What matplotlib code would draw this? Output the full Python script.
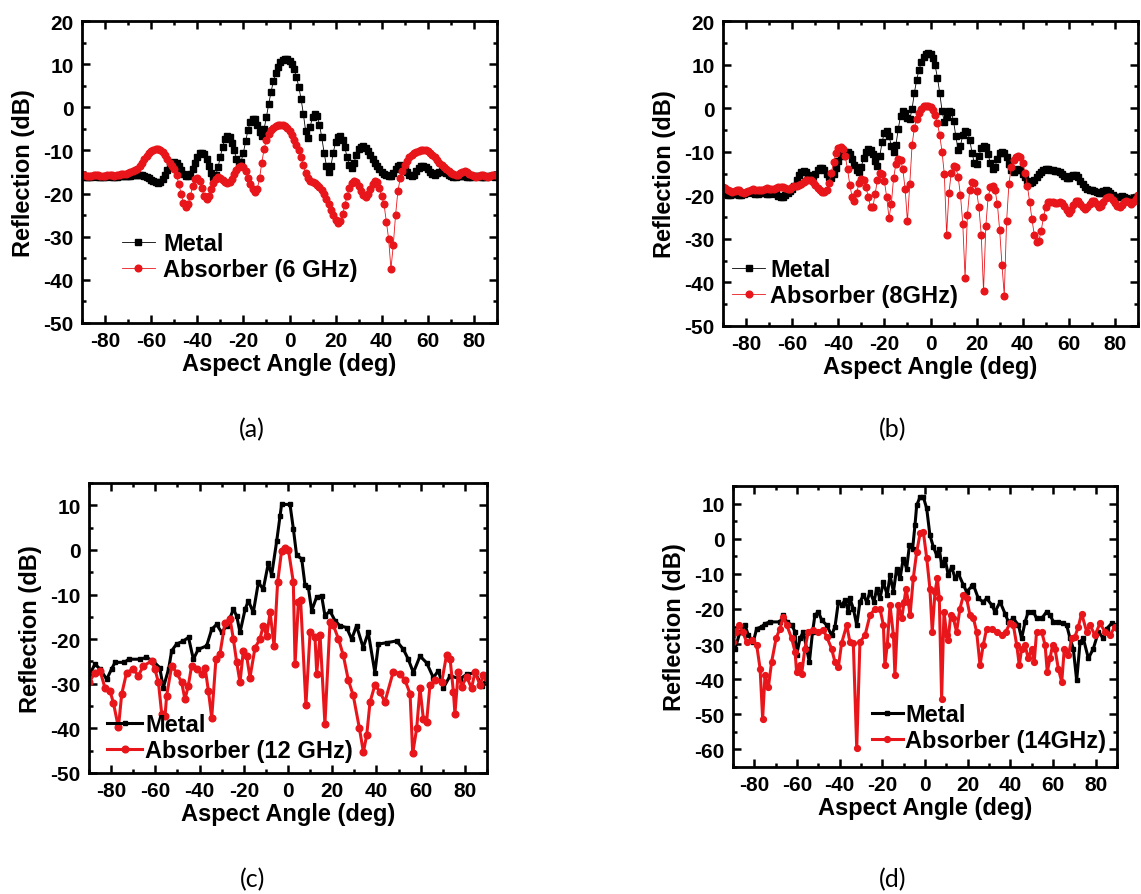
import numpy as np
import matplotlib.pyplot as plt
from matplotlib.ticker import MultipleLocator

plt.rcParams['font.family'] = ['Liberation Sans', 'DejaVu Sans']
plt.rcParams['font.weight'] = 'bold'
plt.rcParams['axes.labelweight'] = 'bold'
plt.rcParams['axes.unicode_minus'] = False

# 6 GHz and 8 GHz scans are sampled every degree
angles = np.arange(-90, 91)

metal_6 = [
    -16.0, -16.1, -16.2, -16.2, -16.1, -16.0, -16.0, -16.1, -16.2, -16.2,   # -90..-81
    -16.1, -16.0, -16.0, -16.1, -16.2, -16.1, -16.0, -15.9, -15.9, -16.0,   # -80..-71
    -16.0, -15.9, -15.8, -15.7, -15.6, -15.6, -15.7, -15.9, -16.2, -16.5,   # -70..-61
    -16.8, -17.1, -17.4, -17.5, -17.3, -16.6, -15.6, -14.5, -13.5, -12.9,   # -60..-51
    -12.6, -12.8, -13.5, -14.5, -15.4, -15.9, -16.0, -15.5, -14.3, -12.8,   # -50..-41
    -11.5, -10.7, -10.5, -10.9, -12.0, -13.6, -15.2, -16.2, -15.8, -13.9,   # -40..-31
    -11.5, -9.1, -7.4, -6.7, -7.0, -8.2, -10.0, -11.9, -13.1, -12.6,        # -30..-21
    -10.5, -7.8, -5.2, -3.4, -2.6, -2.8, -4.0, -5.8, -6.6, -5.0,            # -20..-11
    -2.2, 0.8, 3.6, 6.0, 8.0, 9.4, 10.4, 11.0, 11.3, 11.2,                  # -10..-1
    10.8, 10.0, 8.8, 7.0, 4.8, 2.0, -1.5, -5.5, -7.2, -4.5,                 # 0..9
    -2.2, -1.6, -2.0, -4.0, -7.0, -10.5, -13.5, -15.0, -13.5, -10.5,        # 10..19
    -8.0, -6.9, -6.7, -7.5, -9.3, -11.6, -13.4, -14.0, -12.8, -11.0,        # 20..29
    -9.7, -9.1, -9.0, -9.4, -10.1, -11.0, -11.9, -12.8, -13.6, -14.3,       # 30..39
    -14.9, -15.4, -15.8, -16.0, -15.9, -15.3, -14.4, -13.6, -13.3, -13.5,   # 40..49
    -14.2, -15.1, -15.8, -16.0, -15.6, -14.8, -14.0, -13.7, -13.6, -13.9,   # 50..59
    -14.4, -15.0, -15.4, -15.6, -15.3, -14.9, -14.7, -14.9, -15.3, -15.7,   # 60..69
    -16.0, -16.1, -16.1, -16.0, -15.9, -15.9, -16.0, -16.1, -16.2, -16.1,   # 70..79
    -16.0, -15.9, -16.0, -16.1, -16.2, -16.1, -16.0, -15.9, -16.0, -16.1,   # 80..89
    -16.0,                                                                  # 90
]
absorber_6 = [
    -15.6, -15.7, -15.9, -16.0, -15.9, -15.7, -15.6, -15.7, -15.9, -16.0,
    -15.9, -15.8, -15.7, -15.8, -15.9, -15.8, -15.6, -15.5, -15.5, -15.4,
    -15.2, -15.0, -14.8, -14.5, -14.2, -13.6, -12.9, -12.1, -11.3, -10.6,
    -10.1, -9.8, -9.6, -9.6, -9.8, -10.3, -11.0, -11.9, -12.8, -13.6,
    -14.4, -15.8, -17.8, -20.0, -22.2, -23.2, -22.5, -20.6, -18.2, -16.7,
    -16.3, -17.0, -18.8, -20.6, -21.2, -20.5, -19.0, -17.6, -16.6, -16.2,
    -16.4, -16.9, -17.4, -17.6, -17.4, -16.6, -15.5, -14.5, -13.8, -13.5,
    -13.8, -14.8, -16.3, -17.8, -19.0, -19.6, -19.0, -16.5, -12.8, -9.6,
    -7.6, -6.2, -5.3, -4.7, -4.3, -4.1, -4.0, -4.1, -4.4, -4.9,
    -5.6, -6.5, -7.6, -8.8, -10.0, -11.5, -13.4, -15.2, -16.4, -17.0,
    -17.3, -17.6, -18.0, -18.5, -19.2, -20.1, -21.2, -22.4, -23.7, -25.0,
    -26.2, -26.9, -26.4, -24.8, -22.6, -20.5, -18.8, -17.6, -17.1, -17.3,
    -18.2, -19.4, -20.4, -20.8, -20.2, -18.9, -17.8, -17.2, -17.4, -18.8,
    -20.6, -22.5, -26.5, -30.5, -37.5, -32.0, -25.0, -19.5, -16.5, -14.8,
    -13.4, -12.4, -11.6, -11.0, -10.6, -10.3, -10.1, -10.0, -9.9, -10.0,
    -10.2, -10.6, -11.0, -11.6, -12.2, -12.8, -13.4, -13.9, -14.4, -14.8,
    -15.2, -15.5, -15.8, -15.6, -15.2, -14.9, -14.8, -15.0, -15.4, -15.8,
    -16.0, -16.1, -15.9, -15.7, -15.8, -16.0, -16.1, -16.0, -15.8, -15.7,
    -15.8,
]
metal_8 = [
    -19.5, -19.8, -20.0, -20.0, -19.8, -19.6, -19.8, -20.0, -20.0, -19.8,
    -19.5, -19.3, -19.3, -19.5, -19.7, -19.6, -19.4, -19.3, -19.4, -19.6,
    -19.6, -19.5, -19.5, -19.8, -20.2, -20.4, -20.3, -19.9, -19.4, -19.0,
    -18.6, -17.8, -16.6, -15.4, -14.6, -14.4, -14.7, -15.3, -15.7, -15.6,
    -15.0, -14.3, -13.8, -13.7, -14.1, -15.0, -15.8, -16.0, -15.2, -13.8,
    -12.2, -10.9, -10.2, -10.0, -10.1, -10.6, -11.6, -13.0, -14.2, -14.6,
    -13.4, -11.5, -10.0, -9.4, -9.5, -10.6, -12.2, -13.2, -11.0, -7.8,
    -5.6, -5.3, -6.4, -8.6, -10.1, -8.5, -4.8, -1.8, -0.7, -1.0,
    -2.2, -2.6, -0.2, 3.5, 6.5, 8.8, 10.5, 11.8, 12.5, 12.7,
    12.4, 11.5, 9.8, 7.0, 3.5, -0.6, -3.2, -2.0, -0.6, -0.8,
    -3.0, -6.5, -9.6, -8.6, -6.2, -5.3, -5.4, -7.2, -10.2, -12.6,
    -12.8, -11.0, -9.2, -8.6, -9.0, -10.6, -12.7, -14.0, -13.4, -11.7,
    -10.4, -10.1, -10.2, -11.2, -12.8, -14.2, -14.6, -14.3, -14.0, -14.3,
    -15.0, -15.9, -16.7, -17.2, -17.0, -16.4, -15.8, -15.2, -14.6, -14.2,
    -14.0, -14.0, -14.1, -14.3, -14.4, -14.5, -14.7, -15.1, -15.6, -16.0,
    -16.0, -15.6, -15.3, -15.4, -15.9, -16.7, -17.5, -18.2, -18.6, -18.8,
    -18.9, -19.0, -19.2, -19.4, -19.4, -19.1, -18.9, -19.0, -19.4, -19.9,
    -20.3, -20.5, -20.4, -20.2, -20.3, -20.6, -20.9, -21.0, -20.8, -20.5,
    -20.2,
]
absorber_8 = [
    -18.0, -18.3, -18.8, -19.1, -19.2, -19.0, -18.8, -18.9, -19.2, -19.4,
    -19.3, -19.0, -18.7, -18.6, -18.7, -18.9, -18.9, -18.7, -18.5, -18.4,
    -18.5, -18.6, -18.5, -18.3, -18.1, -18.0, -18.1, -18.4, -18.6, -18.5,
    -18.2, -17.9, -17.8, -17.6, -17.3, -17.0, -16.6, -16.4, -16.5, -17.0,
    -17.7, -18.4, -18.9, -19.2, -19.3, -18.8, -17.2, -14.8, -12.3, -10.3,
    -9.2, -8.9, -9.4, -11.0, -14.0, -17.6, -20.4, -21.2, -19.4, -17.2,
    -16.3, -16.6, -18.0, -20.4, -22.6, -22.8, -19.6, -16.4, -14.9, -15.0,
    -16.8, -20.4, -25.2, -22.0, -16.0, -12.8, -11.7, -11.8, -14.0, -18.6,
    -26.0, -17.5, -8.5, -4.5, -2.4, -1.0, -0.1, 0.4, 0.6, 0.5,
    0.2, -0.4, -1.6, -3.5, -6.2, -10.0, -15.2, -29.0, -19.5, -14.8,
    -13.2, -13.6, -15.8, -20.0, -26.5, -39.0, -24.5, -18.8, -17.0, -17.2,
    -19.0, -22.8, -29.0, -42.0, -27.0, -20.4, -18.2, -17.8, -18.8, -22.0,
    -28.0, -36.0, -43.0, -26.0, -17.5, -13.6, -11.8, -11.1, -10.9, -11.3,
    -12.6, -14.8, -17.8, -21.5, -25.5, -29.0, -30.8, -30.4, -28.2, -25.0,
    -22.6, -21.6, -21.5, -21.6, -21.8, -21.8, -21.6, -21.8, -22.4, -23.4,
    -24.0, -23.4, -22.2, -21.4, -21.3, -21.9, -22.7, -23.2, -22.8, -21.9,
    -21.2, -21.3, -22.0, -22.6, -22.4, -21.5, -20.7, -20.3, -20.4, -21.0,
    -21.8, -22.4, -22.6, -22.2, -21.6, -21.3, -21.6, -22.0, -21.6, -20.8,
    -20.0,
]

# 12 GHz and 14 GHz scans: (angle, dB) pairs
metal_12 = [
    (-90, -28.2), (-87.3, -25.6), (-85, -26.7), (-82, -29.0), (-79.8, -26.7),
    (-78.2, -25.2), (-74, -25.2), (-72, -24.5), (-67, -24.5), (-64, -24.1),
    (-61, -24.9), (-58, -26.4), (-56.4, -30.9), (-54, -26.7), (-52.6, -22.6),
    (-50.4, -21.1), (-47.3, -20.4), (-45, -19.6), (-42.8, -24.5), (-40.6, -22.3),
    (-36.8, -21.5), (-34.5, -17.8), (-32.3, -16.7), (-30, -18.5), (-27.7, -17.0),
    (-26.2, -15.2), (-24.7, -13.3), (-23.2, -14.8), (-21.7, -18.5), (-19.4, -13.3),
    (-17.9, -11.4), (-15.7, -14.0), (-13.4, -7.3), (-11.2, -8.8), (-8.9, -3.0),
    (-7.4, -5.6), (-5.1, 2.0), (-3.6, 7.6), (-2.9, 10.2), (0.9, 10.2),
    (2.4, 4.8), (3.9, -1.2), (6.2, -2.0), (7.7, -7.9), (9.2, -8.4),
    (10.7, -13.6), (13.0, -10.5), (15.2, -10.3), (16.7, -14.7), (19.0, -13.7),
    (21.3, -15.9), (23.5, -17.0), (26.5, -17.4), (28.8, -20.0), (31.0, -17.0),
    (34.0, -21.9), (36.3, -18.5), (39.3, -27.5), (40.9, -21.1), (44.6, -20.8),
    (49.1, -20.4), (52.2, -22.3), (54.4, -24.5), (56.7, -27.5), (59.7, -23.8),
    (62.7, -25.3), (65.7, -28.6), (68.0, -27.1), (70.3, -30.9), (73.3, -28.2),
    (77.8, -28.9), (80.8, -27.9), (84.6, -27.5), (87.6, -30.4), (90, -28.9),
]
absorber_12 = [
    (-90, -29.7), (-87.3, -27.5), (-85, -27.1), (-82.8, -30.9), (-80.5, -31.6),
    (-79, -34.2), (-76.7, -39.8), (-75.2, -32.3), (-73, -27.5), (-70, -26.7),
    (-67.7, -28.2), (-65.4, -26.0), (-61.7, -24.9), (-60.2, -26.7), (-58.6, -29.7),
    (-57.1, -36.8), (-55.6, -37.2), (-54.9, -32.7), (-52.6, -26.0), (-50.4, -27.5),
    (-48.1, -29.7), (-46.6, -33.5), (-45.1, -30.5), (-43.6, -26.0), (-41.3, -26.7),
    (-39, -27.8), (-37.5, -26.4), (-36, -31.6), (-34.5, -37.6), (-32.6, -24.5),
    (-30.8, -23.4), (-28.5, -16.3), (-26.2, -15.5), (-24.7, -20.0), (-23.2, -25.2),
    (-21.7, -29.7), (-20.2, -22.6), (-18.7, -23.8), (-17.2, -28.6), (-14.9, -21.9),
    (-12.7, -20.0), (-11.2, -17.0), (-9.6, -19.3), (-8.1, -14.0), (-6.3, -21.5),
    (-4.7, -7.3), (-2.9, -0.2), (-1.4, 0.5), (0.2, 0.0), (2.4, -7.2),
    (3.2, -25.5), (4.7, -11.7), (5.7, -11.3), (8.1, -34.8), (10.0, -18.4),
    (12.2, -19.5), (13.0, -27.7), (14.5, -19.1), (16.7, -39.0), (19.0, -16.1),
    (20.5, -16.9), (22.8, -19.9), (25.0, -23.6), (27.3, -29.2), (29.5, -32.6),
    (32.3, -40.0), (34.1, -45.3), (35.6, -41.5), (37.1, -34.1), (39.3, -30.3),
    (41.6, -31.8), (43.8, -34.1), (47.6, -27.3), (50.6, -27.7), (52.9, -29.2),
    (55.2, -32.2), (56.4, -45.6), (58.2, -40.0), (59.7, -31.0), (61.2, -37.8),
    (62.7, -38.5), (64.2, -30.3), (66.4, -29.2), (69.5, -29.6), (71.7, -23.6),
    (73.3, -24.4), (74.8, -31.8), (75.5, -36.7), (77.0, -27.3), (78.5, -30.7),
    (80.8, -28.4), (83.0, -31.0), (84.6, -27.3), (86.8, -30.3), (88.3, -28.1),
    (90, -28.8),
]
metal_14 = [
    (-90, -27.5), (-89, -31.3), (-86.7, -26.5), (-84.4, -24.6), (-82.8, -27.5),
    (-80.5, -29.4), (-78.9, -25.6), (-76.6, -25.1), (-75, -24.2), (-72.7, -23.7),
    (-68, -23.7), (-66.4, -21.8), (-64.8, -23.7), (-62.5, -24.6), (-60.9, -26.5),
    (-60.2, -33.2), (-58.6, -28.4), (-57, -26.5), (-55.5, -31.3), (-54.2, -35.1),
    (-52.7, -26.5), (-51.6, -21.8), (-50, -20.8), (-48.4, -23.2), (-46.1, -24.6),
    (-43.8, -27.5), (-42.2, -25.1), (-40.6, -18.0), (-39.1, -18.9), (-37.5, -17.5),
    (-35.9, -20.8), (-35.2, -17.0), (-33.6, -19.9), (-32, -24.6), (-30.5, -18.0),
    (-28.9, -16.1), (-27.3, -18.0), (-25.8, -15.1), (-23.9, -18.0), (-22.7, -14.3),
    (-21.1, -17.0), (-19.5, -12.3), (-17.7, -16.1), (-16.4, -10.4), (-14.8, -15.1),
    (-13.3, -8.5), (-11.7, -11.3), (-10.2, -5.7), (-8.6, -8.5), (-7.3, -1.9),
    (-5.8, -2.8), (-4.7, 3.8), (-3.9, 9.5), (-2.3, 11.9), (-0.8, 11.9),
    (0.8, 8.6), (2.3, 1.0), (3.9, -2.3), (5.5, -4.7), (6.7, -2.8),
    (7.8, -7.6), (9.4, -5.7), (10.9, -10.4), (12.5, -8.0), (14.1, -11.3),
    (15.6, -9.9), (18.0, -13.2), (19.5, -15.1), (21.9, -13.6), (22.7, -13.2),
    (25.0, -17.0), (27.3, -18.0), (28.9, -17.0), (31.3, -18.9), (32.8, -20.8),
    (35.2, -18.0), (37.5, -21.3), (39.1, -23.7), (41.4, -22.7), (43.8, -24.6),
    (45.3, -28.4), (46.9, -23.7), (48.4, -20.8), (50.8, -20.8), (52.3, -22.7),
    (54.7, -22.7), (57.0, -20.8), (58.6, -21.7), (60.2, -23.7), (62.5, -23.7),
    (64.8, -24.1), (66.4, -24.6), (68.0, -28.4), (69.5, -31.3), (71.1, -40.3),
    (72.7, -29.4), (74.2, -28.4), (76.6, -34.1), (78.9, -31.3), (81.3, -26.5),
    (83.6, -28.4), (85.2, -25.6), (87.5, -24.1), (90, -24.6),
]
absorber_14 = [
    (-90, -29.4), (-88.6, -26.5), (-87, -24.6), (-85.5, -26.5), (-83.6, -29.4),
    (-81.3, -28.9), (-78.9, -30.3), (-77.3, -37.0), (-76.1, -51.2), (-75, -38.9),
    (-73.4, -42.2), (-71.9, -35.1), (-69.8, -28.4), (-68, -25.6), (-66.4, -22.3),
    (-64.8, -24.6), (-62.5, -28.4), (-60.9, -32.2), (-60.2, -37.9), (-58.6, -36.0),
    (-57.8, -38.4), (-56.3, -31.3), (-54.7, -26.5), (-52.3, -26.0), (-50, -26.5),
    (-47.7, -26.0), (-46.1, -27.9), (-43.8, -31.3), (-42.2, -35.1), (-40.6, -36.5),
    (-39.1, -29.8), (-36.7, -24.6), (-35.2, -29.4), (-33.6, -29.8), (-32, -59.7),
    (-30.5, -29.4), (-28.1, -27.5), (-25.8, -21.8), (-23.4, -19.9), (-21.1, -19.9),
    (-19.5, -24.6), (-18.8, -36.0), (-17.7, -30.3), (-16.4, -18.9), (-14.8, -27.5),
    (-14.1, -38.9), (-12.5, -18.9), (-10.9, -22.7), (-9.8, -18.0), (-8.9, -14.2),
    (-7.8, -18.0), (-7.0, -21.8), (-5.5, -11.3), (-3.9, -3.8), (-2.3, 1.5),
    (-0.8, 2.0), (0.8, -5.5), (2.3, -14.2), (3.4, -26.5), (4.7, -15.1),
    (5.8, -11.3), (6.7, -17.0), (7.8, -45.5), (8.9, -20.8), (10.2, -27.5),
    (10.9, -28.9), (12.0, -21.8), (13.3, -22.7), (14.8, -26.5), (16.4, -19.9),
    (18.0, -16.1), (19.5, -17.0), (21.1, -21.8), (22.7, -22.7), (24.2, -26.5),
    (25.8, -36.0), (27.3, -30.3), (28.9, -25.6), (31.3, -25.6), (33.6, -26.5),
    (35.9, -27.5), (37.9, -26.5), (39.8, -24.1), (41.4, -24.6), (43.0, -30.3),
    (44.2, -36.0), (45.3, -31.3), (46.9, -30.3), (48.4, -34.1), (50.0, -31.3),
    (51.2, -35.1), (52.3, -26.5), (54.7, -26.5), (56.3, -30.3), (57.3, -37.9),
    (58.6, -34.1), (59.8, -30.3), (60.9, -31.3), (62.5, -37.0), (64.1, -40.8),
    (65.3, -31.3), (67.2, -33.2), (68.8, -28.4), (70.3, -27.9), (71.9, -25.0),
    (73.4, -21.3), (75.8, -26.5), (77.3, -24.6), (79.7, -27.5), (82.0, -24.1),
    (84.4, -26.5), (86.7, -27.5), (89.0, -25.1), (90, -25.5),
]

RED = '#e8161b'
W, H = 1141, 895


def px_rect(left, top, right, bottom):
    return [left / W, 1 - bottom / H, (right - left) / W, (bottom - top) / H]


def style_axes(ax, ylim):
    ax.set_xlim(-90, 90)
    ax.set_ylim(*ylim)
    ax.xaxis.set_major_locator(MultipleLocator(20))
    ax.xaxis.set_minor_locator(MultipleLocator(10))
    ax.yaxis.set_major_locator(MultipleLocator(10))
    ax.yaxis.set_minor_locator(MultipleLocator(5))
    ax.tick_params(which='both', direction='in', top=True, right=True, width=1.8)
    ax.tick_params(which='major', length=6, labelsize=15, pad=6)
    ax.tick_params(which='minor', length=3)
    for lbl in ax.get_xticklabels() + ax.get_yticklabels():
        lbl.set_fontweight('bold')
    for sp in ax.spines.values():
        sp.set_linewidth(2.0)
    ax.set_xlabel('Aspect Angle (deg)', fontsize=17, labelpad=1)
    ax.set_ylabel('Reflection (dB)', fontsize=17, labelpad=6)


def add_legend(ax, anchor, hl, tp):
    ax.legend(loc='upper left', bbox_to_anchor=anchor, frameon=False,
              prop={'size': 17, 'weight': 'bold'}, numpoints=1,
              handlelength=hl, handletextpad=tp, labelspacing=0.12,
              borderpad=0, borderaxespad=0)


fig = plt.figure(figsize=(W / 100, H / 100), dpi=100)

# (a) 6 GHz
ax = fig.add_axes(px_rect(82, 22, 497, 324))
ax.plot(angles, metal_6, color='black', lw=0.6, marker='s', ms=4.4, label='Metal')
ax.plot(angles, absorber_6, color=RED, lw=0.6, marker='o', ms=4.8,
        label='Absorber (6 GHz)')
style_axes(ax, (-50, 20))
add_legend(ax, (0.096, 0.30), 1.4, 0.34)

# (b) 8 GHz
ax = fig.add_axes(px_rect(723, 22, 1138, 327))
ax.plot(angles, metal_8, color='black', lw=0.6, marker='s', ms=4.4, label='Metal')
ax.plot(angles, absorber_8, color=RED, lw=0.6, marker='o', ms=4.8,
        label='Absorber (8GHz)')
style_axes(ax, (-50, 20))
add_legend(ax, (0.022, 0.222), 1.4, 0.2)

# (c) 12 GHz
ax = fig.add_axes(px_rect(89, 484, 487, 774))
x, y = np.array(metal_12).T
ax.plot(x, y, color='black', lw=2.2, marker='s', ms=3.5, label='Metal')
x, y = np.array(absorber_12).T
ax.plot(x, y, color=RED, lw=2.2, marker='o', ms=4.8, label='Absorber (12 GHz)')
style_axes(ax, (-50, 15))
add_legend(ax, (0.045, 0.207), 1.5, 0.13)

# (d) 14 GHz
ax = fig.add_axes(px_rect(733, 487, 1117, 768))
x, y = np.array(metal_14).T
ax.plot(x, y, color='black', lw=2.2, marker='s', ms=3.0, label='Metal')
x, y = np.array(absorber_14).T
ax.plot(x, y, color=RED, lw=2.2, marker='o', ms=4.2, label='Absorber (14GHz)')
style_axes(ax, (-65, 15))
add_legend(ax, (0.362, 0.228), 1.3, 0.1)

# panel captions
for txt, cx, cy in [('(a)', 252, 430), ('(b)', 893, 430),
                    ('(c)', 253, 880), ('(d)', 893, 880)]:
    fig.text(cx / W, 1 - cy / H, txt, ha='center', va='center',
             family='Lato', fontsize=18, fontweight='normal')

fig.savefig('out.png', dpi=100)
